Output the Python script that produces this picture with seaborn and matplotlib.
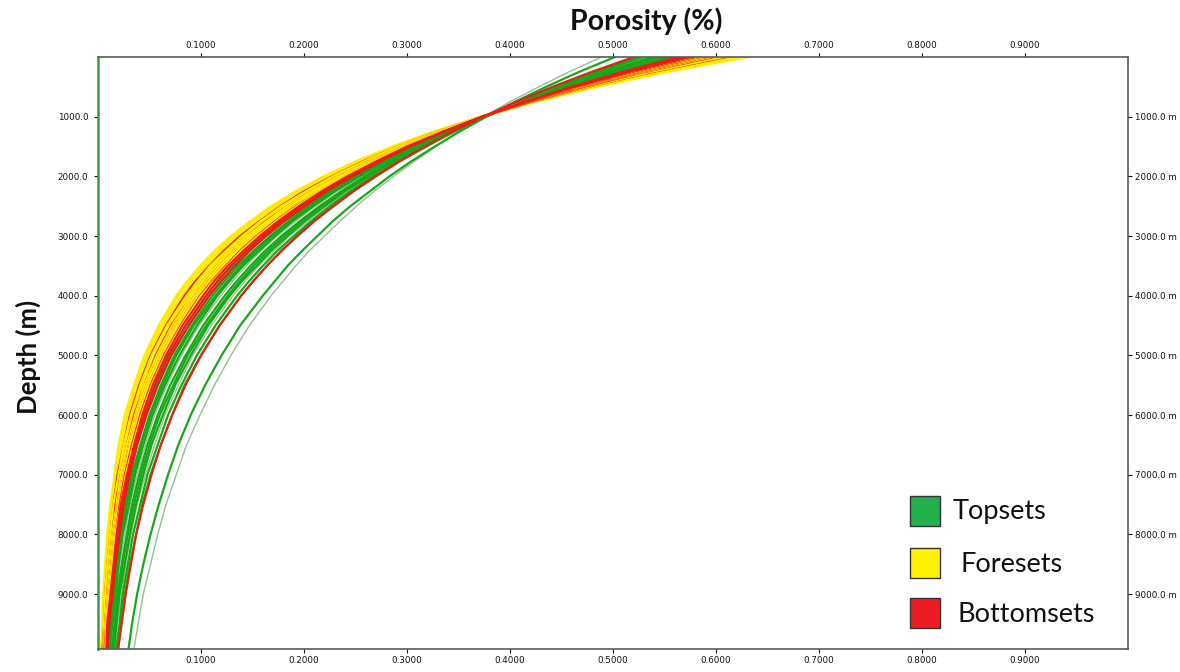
import pandas as pd
import matplotlib
matplotlib.use("Agg")
import matplotlib.pyplot as plt
from matplotlib.patches import Rectangle
import seaborn as sns

# Depth stations (m) at which every compaction curve is sampled
depth_m = [0, 250, 500, 750, 1000, 1250, 1500, 1750, 2000, 2250, 2500, 2750,
           3000, 3250, 3500, 3750, 4000, 4500, 5000, 5500, 6000, 6500, 7000,
           7500, 8000, 8500, 9000, 9500, 10000]

# Porosity (fraction) per curve, one value per depth station
topsets = [
    [.502, .467, .435, .405, .377, .351, .327, .304, .283, .264, .245, .228, .213, .198, .184, .172, .160, .138, .120, .104, .090, .078, .068, .059, .051, .044, .038, .033, .029],
    [.524, .482, .444, .409, .376, .346, .319, .293, .270, .248, .229, .210, .194, .178, .164, .151, .139, .118, .100, .084, .072, .061, .051, .043, .037, .031, .026, .022, .019],
    [.529, .486, .446, .410, .376, .345, .317, .291, .267, .245, .225, .207, .190, .174, .160, .147, .135, .114, .096, .081, .068, .058, .048, .041, .034, .029, .024, .021, .017],
    [.538, .492, .449, .411, .376, .344, .314, .287, .263, .240, .220, .201, .184, .168, .154, .140, .128, .107, .090, .075, .063, .052, .044, .037, .031, .026, .021, .018, .015],
    [.542, .495, .451, .412, .376, .343, .313, .286, .261, .238, .217, .198, .181, .165, .151, .138, .126, .105, .087, .073, .060, .050, .042, .035, .029, .024, .020, .017, .014],
    [.546, .497, .453, .413, .376, .343, .312, .284, .259, .236, .215, .196, .178, .162, .148, .135, .123, .102, .085, .070, .058, .048, .040, .033, .028, .023, .019, .016, .013],
    [.554, .503, .456, .413, .375, .340, .309, .280, .254, .230, .209, .189, .172, .156, .141, .128, .116, .096, .079, .065, .053, .044, .036, .030, .024, .020, .017, .014, .011],
    [.558, .505, .457, .414, .375, .340, .307, .278, .252, .228, .207, .187, .169, .153, .139, .126, .114, .093, .076, .063, .051, .042, .035, .028, .023, .019, .016, .013, .010],
    [.562, .508, .459, .415, .375, .339, .306, .277, .250, .226, .204, .185, .167, .151, .136, .123, .111, .091, .074, .061, .050, .041, .033, .027, .022, .018, .015, .012, .010],
    [.566, .510, .460, .415, .374, .337, .304, .274, .247, .223, .201, .181, .163, .147, .133, .120, .108, .088, .071, .058, .047, .038, .031, .025, .021, .017, .014, .011, .009],
    [.571, .514, .462, .416, .374, .336, .303, .272, .245, .220, .198, .178, .160, .144, .130, .117, .105, .085, .069, .056, .045, .036, .030, .024, .019, .016, .013, .010, .008],
]
topsets_faint = [
    [.489, .457, .428, .400, .3745, .350, .328, .307, .287, .268, .251, .235, .220, .205, .192, .180, .168, .147, .129, .113, .099, .086, .076, .066, .058, .051, .044, .039, .034],
    [.534, .489, .448, .410, .376, .344, .316, .289, .265, .243, .222, .204, .186, .171, .156, .143, .131, .110, .092, .078, .065, .055, .046, .038, .032, .027, .023, .019, .016],
    [.550, .500, .454, .413, .375, .341, .310, .281, .256, .232, .211, .192, .174, .158, .144, .131, .119, .098, .081, .067, .055, .046, .038, .031, .026, .021, .018, .014, .012],
]
foresets = [
    [.576, .516, .463, .415, .372, .333, .299, .268, .240, .215, .193, .173, .155, .139, .125, .112, .100, .081, .065, .052, .042, .034, .027, .022, .017, .014, .011, .009, .007],
    [.583, .521, .466, .416, .372, .332, .297, .266, .237, .212, .190, .169, .151, .135, .121, .108, .097, .077, .062, .049, .039, .031, .025, .020, .016, .013, .010, .008, .007],
    [.589, .525, .468, .417, .372, .332, .296, .264, .235, .209, .187, .166, .148, .132, .118, .105, .094, .074, .059, .047, .037, .030, .024, .019, .015, .012, .009, .007, .006],
    [.595, .529, .470, .418, .372, .331, .294, .262, .233, .207, .184, .164, .145, .129, .115, .102, .091, .072, .057, .045, .036, .028, .022, .018, .014, .011, .009, .007, .005],
    [.601, .533, .473, .419, .372, .330, .293, .260, .230, .204, .181, .161, .143, .126, .112, .099, .088, .069, .055, .043, .034, .027, .021, .016, .013, .010, .008, .006, .005],
    [.607, .537, .475, .420, .372, .329, .291, .258, .228, .202, .178, .158, .140, .124, .109, .097, .086, .067, .052, .041, .032, .025, .020, .015, .012, .009, .007, .006, .005],
    [.613, .541, .478, .421, .372, .328, .290, .256, .226, .199, .176, .155, .137, .121, .107, .094, .083, .065, .050, .039, .031, .024, .019, .014, .011, .009, .007, .005, .004],
    [.619, .545, .480, .423, .372, .328, .288, .254, .224, .197, .173, .153, .134, .118, .104, .092, .081, .063, .049, .038, .029, .023, .018, .014, .011, .008, .006, .005, .004],
    [.625, .549, .482, .424, .372, .327, .287, .252, .221, .194, .171, .150, .132, .116, .102, .089, .078, .061, .047, .036, .028, .021, .017, .013, .010, .008, .006, .005, .003],
    [.631, .553, .484, .425, .372, .326, .286, .250, .219, .192, .168, .148, .129, .113, .099, .087, .076, .059, .045, .035, .026, .020, .016, .012, .009, .007, .005, .004, .003],
]
bottomsets = [
    [.520, .479, .441, .406, .374, .344, .317, .292, .269, .248, .228, .210, .193, .178, .164, .151, .139, .118, .100, .085, .072, .061, .052, .044, .037, .032, .027, .023, .019],
    [.564, .509, .459, .414, .373, .336, .303, .274, .247, .222, .201, .181, .163, .147, .133, .120, .108, .088, .071, .058, .047, .038, .031, .025, .021, .017, .014, .011, .009],
    [.570, .513, .461, .415, .373, .335, .302, .271, .244, .220, .197, .178, .160, .144, .129, .116, .105, .085, .068, .055, .045, .036, .029, .024, .019, .016, .013, .010, .008],
    [.575, .516, .463, .416, .373, .335, .300, .270, .242, .217, .195, .175, .157, .141, .126, .113, .102, .082, .066, .053, .043, .035, .028, .022, .018, .015, .012, .009, .008],
    [.580, .519, .465, .417, .373, .334, .299, .268, .240, .215, .192, .172, .154, .138, .124, .111, .099, .080, .064, .051, .041, .033, .026, .021, .017, .014, .011, .009, .007],
    [.585, .523, .467, .417, .373, .333, .298, .266, .238, .213, .190, .170, .152, .136, .121, .108, .097, .077, .062, .049, .039, .031, .025, .020, .016, .013, .010, .008, .006],
    [.591, .527, .470, .418, .373, .332, .296, .264, .235, .210, .187, .167, .149, .132, .118, .105, .094, .074, .059, .047, .037, .030, .024, .019, .015, .012, .009, .007, .006],
    [.598, .531, .472, .420, .373, .331, .295, .262, .233, .207, .184, .163, .145, .129, .115, .102, .091, .071, .056, .045, .035, .028, .022, .017, .014, .011, .009, .007, .005],
    [.610, .539, .476, .421, .372, .329, .291, .257, .227, .200, .177, .157, .138, .122, .108, .095, .084, .066, .051, .040, .031, .025, .019, .015, .012, .009, .007, .006, .004],
]

facies_labels = ["Topsets", "Foresets", "Bottomsets"]
porosity_ticks = [0.1, 0.2, 0.3, 0.4, 0.5, 0.6, 0.7, 0.8, 0.9]
depth_ticks = [1000, 2000, 3000, 4000, 5000, 6000, 7000, 8000, 9000]

GREEN, FAINT, YELLOW, RED = "#17a817", "#93bf93", "#ffec00", "#f01818"


def curve_frame(curve):
    return pd.DataFrame({"depth": depth_m, "porosity": curve})


sns.set_style("white")
plt.rcParams["font.family"] = ["DejaVu Sans"]

W, H = 1180, 672
fig = plt.figure(figsize=(W / 100, H / 100), dpi=100)
ax = fig.add_axes([98 / W, 1 - 649 / H, (1128 - 98) / W, (649 - 57) / H])

# Topsets underneath, then foresets/bottomsets interleaved from the
# highest surface porosity down so both colours stay visible
draw_list = [(c, FAINT, 1.0) for c in topsets_faint]
draw_list += [(c, GREEN, 1.6) for c in topsets]
mixed = [(c, YELLOW, 1.6) for c in foresets] + [(c, RED, 1.5) for c in bottomsets]
mixed.sort(key=lambda item: -item[0][0])
draw_list += mixed

for curve, color, lw in draw_list:
    sns.lineplot(data=curve_frame(curve), x="porosity", y="depth",
                 estimator=None, sort=False, color=color, linewidth=lw,
                 ax=ax, legend=False)

ax.set_xlim(0, 1)
ax.set_ylim(9920, 0)
ax.set_xlabel("")
ax.set_ylabel("")

ax.set_xticks(porosity_ticks)
ax.set_xticklabels([f"{v:.4f}" for v in porosity_ticks])
ax.tick_params(axis="x", which="both", top=True, bottom=True, labeltop=True,
               labelbottom=True, direction="out", length=3, width=0.8,
               pad=2, labelsize=6.3, colors="#111111")
ax.set_yticks(depth_ticks)
ax.set_yticklabels([f"{v:.1f}" for v in depth_ticks])
ax.tick_params(axis="y", left=True, direction="out", length=3, width=0.8,
               pad=4, labelsize=6.3, colors="#111111")

for side in ("top", "right", "bottom"):
    ax.spines[side].set_color("#5a5a5a")
    ax.spines[side].set_linewidth(1.2)
ax.spines["left"].set_color("#3c9a4a")
ax.spines["left"].set_linewidth(1.8)

ax2 = ax.twinx()
ax2.set_ylim(ax.get_ylim())
ax2.set_yticks(depth_ticks)
ax2.set_yticklabels([f"{v:.1f} m" for v in depth_ticks])
ax2.tick_params(axis="y", right=True, direction="out", length=3, width=0.8,
                pad=2, labelsize=6.3, colors="#111111")
for s in ax2.spines.values():
    s.set_visible(False)

fig.text(646 / W, 1 - 21 / H, "Porosity (%)", ha="center", va="center",
         fontsize=20.5, fontweight="bold", family="Lato", color="#111111")
fig.text(28 / W, 1 - 357 / H, "Depth (m)", ha="center", va="center",
         rotation=90, fontsize=18.5, fontweight="bold", family="Lato",
         color="#111111")

# Facies key
key_colors = ["#22b14c", "#fff200", "#ed1c24"]
key_tops = [496, 548, 598]
key_text_x = [953, 960, 957]
for label, color, top, tx in zip(facies_labels, key_colors, key_tops, key_text_x):
    fig.add_artist(Rectangle((910 / W, 1 - (top + 30) / H), 30 / W, 30 / H,
                             transform=fig.transFigure, facecolor=color,
                             edgecolor="#333333", linewidth=1.0))
    fig.text(tx / W, 1 - (top + 16) / H, label, ha="left", va="center",
             fontsize=19.5, family="Lato", color="#111111")

fig.savefig("out.png", dpi=100)
